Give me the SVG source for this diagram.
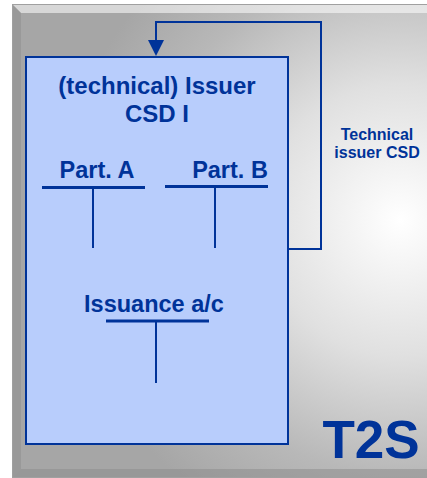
<svg xmlns="http://www.w3.org/2000/svg" width="427" height="478" viewBox="0 0 427 478">
<defs>
<radialGradient id="bg" cx="400" cy="220" r="340" gradientUnits="userSpaceOnUse">
<stop offset="0" stop-color="#ffffff"/>
<stop offset="0.4" stop-color="#e0e0e0"/>
<stop offset="0.75" stop-color="#b8b8b8"/>
<stop offset="1" stop-color="#a6a6a6"/>
</radialGradient>
<style>
.t{font-family:"Liberation Sans",Arial,sans-serif;font-weight:bold;fill:#003399;text-anchor:middle}
.ln{stroke:#003399;stroke-width:3;fill:none}
.lv{stroke:#003399;stroke-width:2;fill:none}
</style>
</defs>
<rect x="0" y="0" width="427" height="478" fill="#ffffff"/>
<g id="frame">
<rect x="13" y="5" width="430" height="472" fill="url(#bg)"/>
<polygon points="13,5 443,5 435,13 21,13" fill="#ffffff" opacity="0.55"/>
<polygon points="13,5 21,13 21,469 13,477" fill="#8c8c8c" opacity="0.5"/>
<polygon points="13,477 21,469 435,469 443,477" fill="#8a8a8a" opacity="0.5"/>
<rect x="12.5" y="4.5" width="430" height="473" fill="none" stroke="#a0a0a0" stroke-width="1"/>
</g>
<g id="connectors">
<path d="M289,249 H321 V22 H156 V40" class="lv"/>
<polygon points="148,40 164,40 156,56" fill="#003399"/>
</g>
<g id="issuer">
<rect x="26" y="57" width="262" height="387" fill="#b8cdfc" stroke="#003399" stroke-width="2"/>
<text class="t" x="157" y="94" font-size="24">(technical) Issuer</text>
<text class="t" x="157" y="122" font-size="24">CSD I</text>
</g>
<g id="partA">
<text class="t" x="97" y="178" font-size="23.5">Part. A</text>
<path class="ln" d="M42,187.5 H145"/>
<path class="lv" d="M93,188 V248"/>
</g>
<g id="partB">
<text class="t" x="230" y="178" font-size="23.5">Part. B</text>
<path class="ln" d="M165,186.5 H268"/>
<path class="lv" d="M215,187 V248"/>
</g>
<g id="issuance">
<text class="t" x="154" y="312" font-size="23.5">Issuance a/c</text>
<path class="ln" d="M106,321 H209"/>
<path class="lv" d="M156,321 V383"/>
</g>
<g id="label">
<text class="t" x="377" y="140" font-size="16">Technical</text>
<text class="t" x="377" y="158" font-size="16">issuer CSD</text>
</g>
<g id="t2s">
<text class="t" x="371" y="458" font-size="53">T2S</text>
</g>
</svg>
